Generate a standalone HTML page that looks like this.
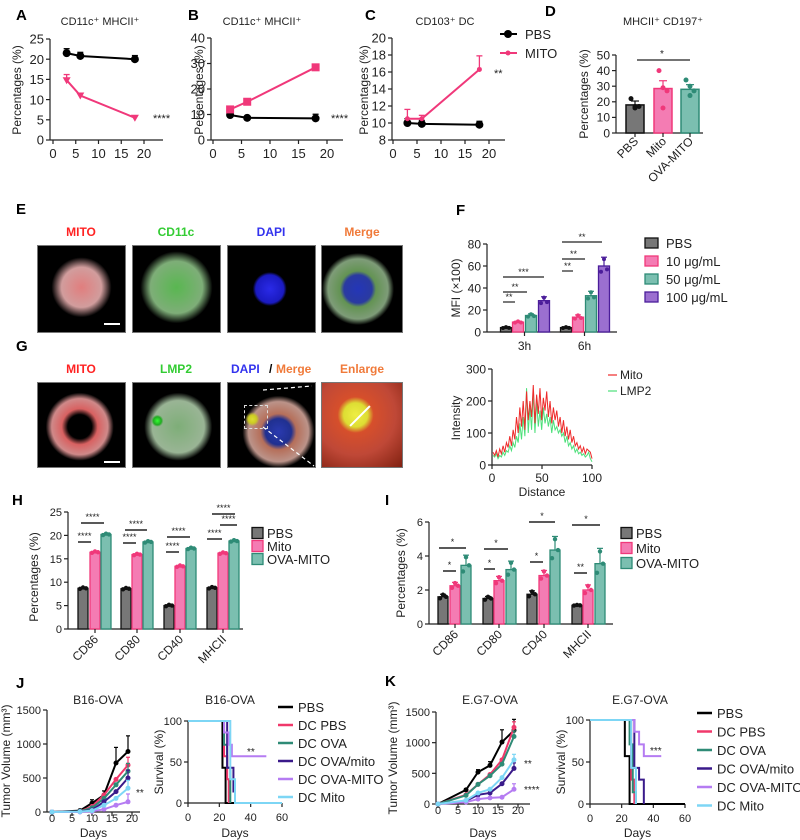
<!DOCTYPE html>
<html><head><meta charset="utf-8"><style>
body{margin:0;background:#fff;width:800px;height:840px;overflow:hidden;position:relative;font-family:"Liberation Sans",sans-serif}
svg{position:absolute;left:0;top:0}
.img{position:absolute;background:#000;border:1px solid #777;box-sizing:border-box;overflow:hidden}
.sb{position:absolute;height:2px;width:16px;background:#fff}
</style></head><body>
<div class="img" style="left:37px;top:245px;width:89px;height:88px;background:radial-gradient(circle at 50% 48%,rgba(200,20,20,.55) 0,rgba(140,10,10,.4) 20px,#000 30px)"><div class="sb" style="left:66px;top:77px"></div></div>
<div class="img" style="left:132px;top:245px;width:89px;height:88px;background:radial-gradient(circle at 50% 48%,rgba(60,170,50,.85) 0,rgba(40,120,30,.6) 26px,#000 36px)"></div>
<div class="img" style="left:227px;top:245px;width:89px;height:88px;background:radial-gradient(circle at 48% 50%,#2a2ae8 0,#1a1ac0 14px,#000 17px)"></div>
<div class="img" style="left:321px;top:245px;width:82px;height:88px;background:radial-gradient(circle at 45% 50%,#2436b8 0,#2a3aa0 14px,rgba(60,120,40,.8) 18px,rgba(40,90,30,.6) 30px,#000 36px)"></div>
<div class="img" style="left:37px;top:382px;width:89px;height:86px;background:radial-gradient(circle at 48% 52%,#000 0,#000 12px,rgba(200,30,30,.7) 18px,rgba(160,20,20,.5) 28px,#000 34px)"><div class="sb" style="left:66px;top:78px"></div></div>
<div class="img" style="left:132px;top:382px;width:89px;height:86px;background:radial-gradient(circle at 28% 45%,#3f3 0,#2a2 4px,transparent 6px),radial-gradient(circle at 52% 52%,rgba(40,120,30,.6) 0,rgba(30,90,20,.45) 26px,#000 34px)"></div>
<div class="img" style="left:227px;top:382px;width:89px;height:86px;background:radial-gradient(circle at 28% 43%,#dd3 0,#cc2 4px,transparent 7px),radial-gradient(circle at 58% 58%,#2a3ab0 0,#203090 13px,rgba(150,50,20,.7) 18px,rgba(120,40,20,.5) 30px,#000 36px)"><div style="position:absolute;left:16px;top:22px;width:22px;height:22px;border:1px dashed #ddd"></div></div>
<div class="img" style="left:321px;top:382px;width:82px;height:86px;background:radial-gradient(circle at 42% 38%,#ee4 0,#dd3 12px,rgba(210,60,20,.9) 18px,rgba(180,40,20,.85) 40px,#802010 70px)"><div style="position:absolute;left:24px;top:32px;width:28px;height:2px;background:#fff;transform:rotate(-45deg)"></div></div>
<svg id="fig" width="800" height="840" xmlns="http://www.w3.org/2000/svg"></svg>
<script>
const NS='http://www.w3.org/2000/svg';
const svg=document.getElementById('fig');
const F='"Liberation Sans",sans-serif';
// ---- data ----
const timeA=[3,6,18];
const aPBS=[21.5,20.8,20.0], aPBSerr=[1.1,0.9,0.9];
const aMITO=[14.8,11.0,5.5], aMITOerr=[1.4,0.6,0.5];
const bPBS=[9.8,8.7,8.5], bPBSerr=[0.6,0.4,1.6];
const bMITO=[12.0,15.0,28.5], bMITOerr=[0.8,0.6,1.2];
const cPBS=[10.0,9.9,9.8], cPBSerr=[0.5,0.4,0.4];
const cMITO=[10.5,10.5,16.3], cMITOerr=[1.1,0.4,1.6];
const dCats=['PBS','Mito','OVA-MITO'];
const dVals=[18,28.5,28], dErr=[2.5,5,3];
const dPts=[[22,17,17,16],[40,29,27,16],[34,30,27,24]];
const fTimes=['3h','6h'];
const fLegend=['PBS','10 μg/mL','50 μg/mL','100 μg/mL'];
const f3h=[4,9,15,28.5], f6h=[4,13.5,33,60];
const fErr3=[0.5,0.8,1.5,3.5], fErr6=[0.5,2,4,8];
const profMito=[40,30,45,25,50,35,60,40,70,55,90,60,110,80,150,100,180,120,200,110,230,140,200,150,250,130,220,160,240,140,210,170,230,150,200,130,180,140,170,120,150,100,140,90,120,80,110,70,90,60,70,50,60,40,55,35,50,45,40,20];
const profLmp2=[30,25,35,20,30,25,40,30,45,40,60,45,70,55,90,70,130,80,150,90,240,100,180,110,230,100,200,120,170,110,180,130,160,120,150,100,140,110,120,100,110,90,100,70,90,60,70,50,60,40,50,35,40,30,35,25,30,40,20,10];
const markers=['CD86','CD80','CD40','MHCII'];
const groups3=['PBS','Mito','OVA-MITO'];
const hVals=[[8.7,16.4,20.2],[8.6,15.9,18.6],[5.0,13.4,17.2],[8.8,16.2,18.8]];
const iVals=[[1.6,2.25,3.45],[1.5,2.55,3.2],[1.75,2.85,4.35],[1.1,2.0,3.55]];
const iErr=[[0.15,0.2,0.6],[0.12,0.25,0.5],[0.2,0.3,0.8],[0.03,0.3,0.9]];
const days=[0,7,10,13,16,19];
const series=['PBS','DC PBS','DC OVA','DC OVA/mito','DC OVA-MITO','DC Mito'];
const jTumor=[[0,20,130,250,720,890],[0,10,80,250,480,690],[0,10,60,200,400,600],[0,5,30,150,300,500],[0,0,10,40,100,150],[0,5,20,100,200,350]];
const jErr=[0,20,50,60,230,230];
const kTumor=[[0,230,520,630,1010,1200],[0,150,320,480,720,1250],[0,140,320,460,650,1100],[0,50,150,180,330,580],[0,30,80,100,110,240],[0,60,180,240,430,720]];
const kErr=[0,20,40,60,200,180];
const jSurv=[[[0,100],[22,43],[24,0],[30,0]],[[0,100],[23,57],[25,29],[26,0]],[[0,100],[23,71],[25,43],[27,0]],[[0,100],[25,43],[29,14],[30,0]],[[0,100],[23,86],[26,71],[28,57],[50,57]],[[0,100],[27,29],[30,0],[60,0]]];
const kSurv=[[[0,100],[22,57],[25,0],[60,0]],[[0,100],[26,29],[28,0]],[[0,100],[25,71],[27,14],[29,0]],[[0,100],[28,43],[31,29],[34,0]],[[0,100],[28,86],[31,71],[34,57],[45,57]],[[0,100],[26,43],[29,0]]];
const colors=['#000','#f0386b','#2e8b76','#3a1a8a','#b57cf2','#7dd6f5'];
const cPink='#f0387a';
// ---- helpers ----
function lin(d0,d1,r0,r1){return v=>r0+(v-d0)*(r1-r0)/(d1-d0);}
function E(tag,attrs,name,parent){const e=document.createElementNS(NS,tag);for(const k in attrs)e.setAttribute(k,attrs[k]);


(parent||svg).appendChild(e);return e;}
function T(x,y,s,name,o){o=o||{};const e=E('text',{x:x,y:y,'font-size':o.fs||12,'font-family':F,fill:o.fill||'#222','text-anchor':o.a||'start','font-weight':o.w||'normal'},name);if(o.rot)e.setAttribute('transform','rotate('+o.rot+' '+x+' '+y+')');e.textContent=s;return e;}
function L(x1,y1,x2,y2,name,c,w){return E('line',{x1:x1,y1:y1,x2:x2,y2:y2,stroke:c||'#222','stroke-width':w||1.2},name);}
function yAxis(x,sy,ticks,lab,fs,name){L(x,sy(ticks[0]),x,sy(ticks[ticks.length-1]),name+'-y-axis');ticks.forEach((t,i)=>{L(x-4,sy(t),x,sy(t),name+'-y-tick');T(x-6,sy(t)+fs*0.36,lab?lab[i]:String(t),name+'-y-tick-label',{fs:fs,a:'end'});});}
function xAxis(y,sx,x0,x1,ticks,fs,name,off){L(x0,y,x1,y,name+'-x-axis');ticks.forEach(t=>{L(sx(t),y,sx(t),y+4,name+'-x-tick');T(sx(t),y+(off||fs+5),String(t),name+'-x-tick-label',{fs:fs,a:'middle'});});}
function ylab(x,y,s,fs,name){T(x,y,s,name,{fs:fs,a:'middle',rot:-90});}
function lineSeries(xs,ys,errs,sx,sy,c,name,mk){E('polyline',{points:xs.map((x,i)=>sx(x)+','+sy(ys[i])).join(' '),fill:'none',stroke:c,'stroke-width':2},name+'-line');
xs.forEach((x,i)=>{const cx=sx(x),cy=sy(ys[i]);if(errs&&errs[i]){L(cx,cy,cx,sy(ys[i]+errs[i]),name+'-error-bar',c,1.3);L(cx-3,sy(ys[i]+errs[i]),cx+3,sy(ys[i]+errs[i]),name+'-error-cap',c,1.3);}
if(mk==='sq')E('rect',{x:cx-4,y:cy-4,width:8,height:8,fill:c},name+'-point');else if(mk==='tri')E('path',{d:'M'+(cx-4)+','+(cy-3)+'L'+(cx+4)+','+(cy-3)+'L'+cx+','+(cy+4)+'Z',fill:c},name+'-point');else E('circle',{cx:cx,cy:cy,r:mk==='sm'?2.5:4,fill:c},name+'-point');});}
function panelLabel(x,y,s){T(x,y,s,'panel-label-'+s.toLowerCase(),{fs:15,w:'bold',fill:'#000'});}
// ---- A ----
panelLabel(16,20,'A');
(function(){const sx=lin(0,20,53,144),sy=lin(0,25,140,39);
T(100,25,'CD11c⁺ MHCII⁺','a-title',{fs:11,a:'middle'});
yAxis(50,sy,[0,5,10,15,20,25],null,13,'a');xAxis(140,sx,50,163,[0,5,10,15,20],13,'a');
ylab(21,90,'Percentages (%)',12,'a-y-axis-title');
lineSeries(timeA,aPBS,aPBSerr,sx,sy,'#000','a-pbs');lineSeries(timeA,aMITO,aMITOerr,sx,sy,cPink,'a-mito','tri');
T(153,122,'****','a-significance',{fs:11});})();
// ---- B ----
panelLabel(188,20,'B');
(function(){const sx=lin(0,20,213,327),sy=lin(0,40,140,38);
T(262,25,'CD11c⁺ MHCII⁺','b-title',{fs:11,a:'middle'});
yAxis(211,sy,[0,10,20,30,40],null,13,'b');xAxis(140,sx,211,343,[0,5,10,15,20],13,'b');
ylab(203,90,'Percentages (%)',12,'b-y-axis-title');
lineSeries(timeA,bPBS,bPBSerr,sx,sy,'#000','b-pbs');lineSeries(timeA,bMITO,bMITOerr,sx,sy,cPink,'b-mito','sq');
T(331,122,'****','b-significance',{fs:11});})();
// ---- C ----
panelLabel(365,20,'C');
(function(){const sx=lin(0,20,393,489),sy=lin(8,20,140,38);
T(445,25,'CD103⁺ DC','c-title',{fs:11,a:'middle'});
yAxis(392,sy,[8,10,12,14,16,18,20],null,13,'c');xAxis(140,sx,392,505,[0,5,10,15,20],13,'c');
ylab(368,90,'Percentages (%)',12,'c-y-axis-title');
lineSeries(timeA,cPBS,cPBSerr,sx,sy,'#000','c-pbs');lineSeries(timeA,cMITO,cMITOerr,sx,sy,cPink,'c-mito','sm');
T(494,77,'**','c-significance',{fs:11});
L(500,34,517,34,'legend-pbs-line','#000',2);E('circle',{cx:508,cy:34,r:4,fill:'#000'},'legend-pbs-marker');T(525,39,'PBS','legend-pbs-label',{fs:13});
L(500,53,517,53,'legend-mito-line',cPink,2);E('circle',{cx:508,cy:53,r:2.5,fill:cPink},'legend-mito-marker');T(525,58,'MITO','legend-mito-label',{fs:13});})();
// ---- D ----
panelLabel(545,16,'D');
(function(){const sy=lin(0,50,133,55),cx=[635,663,690],bc=['#777','#f47cb3','#7bbfb0'],lc=['#111','#f0387a','#2e8b76'];
T(663,25,'MHCII⁺ CD197⁺','d-title',{fs:11,a:'middle'});
yAxis(616,sy,[0,10,20,30,40,50],null,12,'d');L(616,133,703,133,'d-x-axis');
ylab(588,94,'Percentages (%)',12,'d-y-axis-title');
dVals.forEach((v,i)=>{E('rect',{x:cx[i]-9,y:sy(v),width:18,height:133-sy(v),fill:bc[i],stroke:lc[i],'stroke-width':1.5},'d-bar-'+dCats[i].toLowerCase());
L(cx[i],sy(v),cx[i],sy(v+dErr[i]),'d-error-bar',lc[i]);L(cx[i]-4,sy(v+dErr[i]),cx[i]+4,sy(v+dErr[i]),'d-error-cap',lc[i]);
dPts[i].forEach((p,j)=>E('circle',{cx:cx[i]+[-4,0,4,0][j],cy:sy(p),r:2.5,fill:lc[i]},'d-point'));
L(cx[i],133,cx[i],137,'d-x-tick');T(cx[i]+4,142,dCats[i],'d-x-tick-label',{fs:12,a:'end',rot:-45});});
L(637,60,690,60,'d-significance-bar');T(662,57,'*','d-significance',{fs:10,a:'middle'});})();
// ---- E / G labels ----
panelLabel(16,214,'E');
[['MITO','#f22',81],['CD11c','#3c3',176],['DAPI','#33e',271],['Merge','#f07a3a',362]].forEach(a=>T(a[2],236,a[0],'e-title-'+a[0].toLowerCase(),{fs:12,w:'bold',fill:a[1],a:'middle'}));
panelLabel(16,351,'G');
T(81,373,'MITO','g-title-mito',{fs:12,w:'bold',fill:'#f22',a:'middle'});
T(176,373,'LMP2','g-title-lmp2',{fs:12,w:'bold',fill:'#3c3',a:'middle'});
T(231,373,'DAPI','g-title-dapi',{fs:12,w:'bold',fill:'#33e'});
T(269,373,'/','g-title-slash',{fs:12,w:'bold',fill:'#000'});
T(276,373,'Merge','g-title-merge',{fs:12,w:'bold',fill:'#f07a3a'});
T(362,373,'Enlarge','g-title-enlarge',{fs:12,w:'bold',fill:'#f07a3a',a:'middle'});
E('line',{x1:263,y1:390,x2:312,y2:386,stroke:'#fff','stroke-dasharray':'4,3','stroke-width':1.2},'g-zoom-line');
E('line',{x1:263,y1:427,x2:314,y2:466,stroke:'#fff','stroke-dasharray':'4,3','stroke-width':1.2},'g-zoom-line');
// ---- F ----
panelLabel(456,215,'F');
(function(){const sy=lin(0,80,332,244),cx=[[506,518,531,544],[566,578,591,604]],bc=['#777','#f47cb3','#7bbfb0','#9b6fd0'],lc=['#111','#f0387a','#2e8b76','#4b1d9a'];
yAxis(487,sy,[0,20,40,60,80],null,12,'f');L(487,332,617,332,'f-x-axis');
ylab(460,288,'MFI (×100)',12,'f-y-axis-title');
[f3h,f6h].forEach((vals,g)=>{const er=g?fErr6:fErr3;vals.forEach((v,i)=>{const x=cx[g][i];E('rect',{x:x-5.5,y:sy(v),width:11,height:332-sy(v),fill:bc[i],stroke:lc[i],'stroke-width':1.3},'f-bar-'+fTimes[g]);
L(x,sy(v),x,sy(v+er[i]),'f-error-bar',lc[i]);L(x-3,sy(v+er[i]),x+3,sy(v+er[i]),'f-error-cap',lc[i]);
[-3,0,3].forEach((d,j)=>E('circle',{cx:x+d,cy:sy(v+[-0.5,0.6,-0.3][j]*er[i]*1.3),r:2,fill:lc[i]},'f-point'));});
const mid=(cx[g][1]+cx[g][2])/2;L(mid,332,mid,336,'f-x-tick');T(mid,350,fTimes[g],'f-x-tick-label',{fs:12,a:'middle'});});
[[503,515,302,'**'],[503,527,292,'**'],[503,544,277,'***'],[562,573,271,'**'],[562,585,259,'**'],[562,602,242,'**']].forEach(s=>{L(s[0],s[2],s[1],s[2],'f-significance-bar');T((s[0]+s[1])/2,s[2]-2,s[3],'f-significance',{fs:9,a:'middle'});});
fLegend.forEach((s,i)=>{const y=243+i*18;E('rect',{x:645,y:y-5,width:13,height:10,fill:bc[i],stroke:lc[i],'stroke-width':1.3},'f-legend-swatch');T(666,y+5,s,'f-legend-label',{fs:13});});})();
// ---- intensity profile ----
(function(){const sx=lin(0,profMito.length-1,493,592),sy=lin(0,300,465,369);
yAxis(492,sy,[0,100,200,300],null,12,'g-profile');xAxis(465,lin(0,100,492,592),492,592,[0,50,100],12,'g-profile');
ylab(460,418,'Intensity',12,'g-profile-y-axis-title');T(542,496,'Distance','g-profile-x-axis-title',{fs:12,a:'middle'});
E('polyline',{points:profLmp2.map((v,i)=>sx(i)+','+sy(v)).join(' '),fill:'none',stroke:'#4ce07a','stroke-width':1},'g-profile-lmp2-line');
E('polyline',{points:profMito.map((v,i)=>sx(i)+','+sy(v)).join(' '),fill:'none',stroke:'#ee2a2a','stroke-width':1},'g-profile-mito-line');
L(608,375,617,375,'g-profile-legend-mito','#ee2a2a');T(620,379,'Mito','g-profile-legend-mito-label',{fs:12});
L(608,391,617,391,'g-profile-legend-lmp2','#4ce07a');T(620,395,'LMP2','g-profile-legend-lmp2-label',{fs:12});})();
// ---- H & I ----
function groupedBars(name,vals,errs,sy,y0,xa,xb,centers,bw,ticks,sigs,legX,legY,legStep){
 const bc=['#777','#f47cb3','#7bbfb0'],lc=['#111','#f0387a','#2e8b76'];
 yAxis(xa,sy,ticks,null,11,name);L(xa,y0,xb,y0,name+'-x-axis');
 vals.forEach((g,gi)=>{g.forEach((v,i)=>{const x=centers[gi][i];E('rect',{x:x-bw/2,y:sy(v),width:bw,height:y0-sy(v),fill:bc[i],stroke:lc[i],'stroke-width':1.3},name+'-bar-'+markers[gi].toLowerCase());
 const e=errs?errs[gi][i]:0;if(e){L(x,sy(v),x,sy(v+e),name+'-error-bar',lc[i]);L(x-3,sy(v+e),x+3,sy(v+e),name+'-error-cap',lc[i]);}
 [-3,0,3].forEach((d,j)=>E('circle',{cx:x+d,cy:sy(v+[-0.6,0.8,0][j]*(e||0.05*ticks[ticks.length-1]/6)),r:2.2,fill:lc[i]},name+'-point'));});
 const m=centers[gi][1];L(m,y0,m,y0+4,name+'-x-tick');T(m+4,y0+11,markers[gi],name+'-x-tick-label',{fs:12,a:'end',rot:-45});});
 sigs.forEach(s=>{L(s[0],s[2],s[1],s[2],name+'-significance-bar','#222',1.5);T((s[0]+s[1])/2,s[2]-3,s[3],name+'-significance',{fs:9,a:'middle'});});
 groups3.forEach((s,i)=>{const y=legY+i*legStep;E('rect',{x:legX,y:y-5.5,width:11,height:11,fill:bc[i],stroke:lc[i],'stroke-width':1.3},name+'-legend-swatch');T(legX+15,y+5,s,name+'-legend-label',{fs:13});});}
panelLabel(12,505,'H');
(function(){const sy=lin(0,25,629,512);
const c=[[83,95,106],[126,137,148],[169,180,191],[212,223,234]];
ylab(38,577,'Percentages (%)',12,'h-y-axis-title');
groupedBars('h',hVals,null,sy,629,68,243,c,10,[0,5,10,15,20,25],
[[78,91,542,'****'],[81,104,523,'****'],[123,136,543,'****'],[125,147,530,'****'],[166,179,552,'****'],[167,190,537,'****'],[207,222,539,'****'],[212,235,514,'****'],[220,237,525,'****']],252,533,13);})();
panelLabel(385,505,'I');
(function(){const sy=lin(0,6,624,522);
const c=[[443,455,466],[488,499,511],[532,544,555],[577,588,600]];
ylab(405,573,'Percentages (%)',12,'i-y-axis-title');
groupedBars('i',iVals,iErr,sy,624,429,613,c,10,[0,2,4,6],
[[443,456,571,'*'],[439,466,548,'*'],[484,495,569,'*'],[484,508,549,'*'],[530,543,562,'*'],[529,555,522,'*'],[574,587,573,'**'],[572,600,525,'*']],621,533,15);})();
// ---- J / K ----
function tumor(name,data,errs,sx,sy,x0,x1,y0,ylabX){
 yAxis(x0,sy,[0,500,1000,1500],null,11,name);xAxis(y0,sx,x0,x1,[0,5,10,15,20],11,name,10);
 ylab(ylabX,(sy(0)+sy(1500))/2,'Tumor Volume (mm³)',12,name+'-y-axis-title');T((x0+x1)/2,837,'Days',name+'-x-axis-title',{fs:12,a:'middle'});
 data.forEach((s,i)=>{const d=series[i].toLowerCase().replace(/[^a-z]+/g,'-');
 s.forEach((v,j)=>{if(j>0&&i===0||j===5){const e=errs[j]*(i===0?1:0.5);L(sx(days[j]),sy(v),sx(days[j]),sy(v+e),name+'-error-bar',colors[i]);L(sx(days[j])-2,sy(v+e),sx(days[j])+2,sy(v+e),name+'-error-cap',colors[i]);}});
 lineSeries(days,s,null,sx,sy,colors[i],name+'-'+d,'sm');});}
function surv(name,data,sx,sy,x0,y0,ylabX){
 yAxis(x0,sy,[0,50,100],null,11,name);xAxis(y0,sx,x0,sx(60),[0,20,40,60],11,name,18);
 ylab(ylabX,(sy(0)+sy(100))/2,'Survival (%)',12,name+'-y-axis-title');T((x0+sx(60))/2,837,'Days',name+'-x-axis-title',{fs:12,a:'middle'});
 data.forEach((s,i)=>{let p='M'+sx(s[0][0])+','+sy(s[0][1]);for(let k=1;k<s.length;k++){p+='H'+sx(s[k][0])+'V'+sy(s[k][1]);}
 E('path',{d:p,fill:'none',stroke:colors[i],'stroke-width':2},name+'-'+series[i].toLowerCase().replace(/[^a-z]+/g,'-')+'-step');});}
function legend(name,x,y,dy){series.forEach((s,i)=>{L(x,y+i*dy,x+15,y+i*dy,name+'-legend-line',colors[i],2.5);T(x+20,y+i*dy+5,s,name+'-legend-label',{fs:13});});}
panelLabel(16,688,'J');
T(98,704,'B16-OVA','j-tumor-title',{fs:12,a:'middle'});
tumor('j-tumor',jTumor,jErr,lin(0,20,52,132),lin(0,1500,812,710),47,140,812,10);
T(136,796,'**','j-tumor-significance',{fs:10});
T(230,704,'B16-OVA','j-survival-title',{fs:12,a:'middle'});
surv('j-survival',jSurv,lin(0,60,188,282),lin(0,100,803,721),188,803,163);
T(247,755,'**','j-survival-significance',{fs:10});
legend('j',278,707,18);
panelLabel(385,686,'K');
T(490,704,'E.G7-OVA','k-tumor-title',{fs:12,a:'middle'});
tumor('k-tumor',kTumor,kErr,lin(0,20,438,518),lin(0,1500,804,712),436,530,804,397);
T(524,767,'**','k-tumor-significance',{fs:10});T(524,793,'****','k-tumor-significance',{fs:10});
T(640,704,'E.G7-OVA','k-survival-title',{fs:12,a:'middle'});
surv('k-survival',kSurv,lin(0,60,590,685),lin(0,100,804,720),590,804,565);
T(650,754,'***','k-survival-significance',{fs:10});
legend('k',697,713,18.5);
</script>
</body></html>
